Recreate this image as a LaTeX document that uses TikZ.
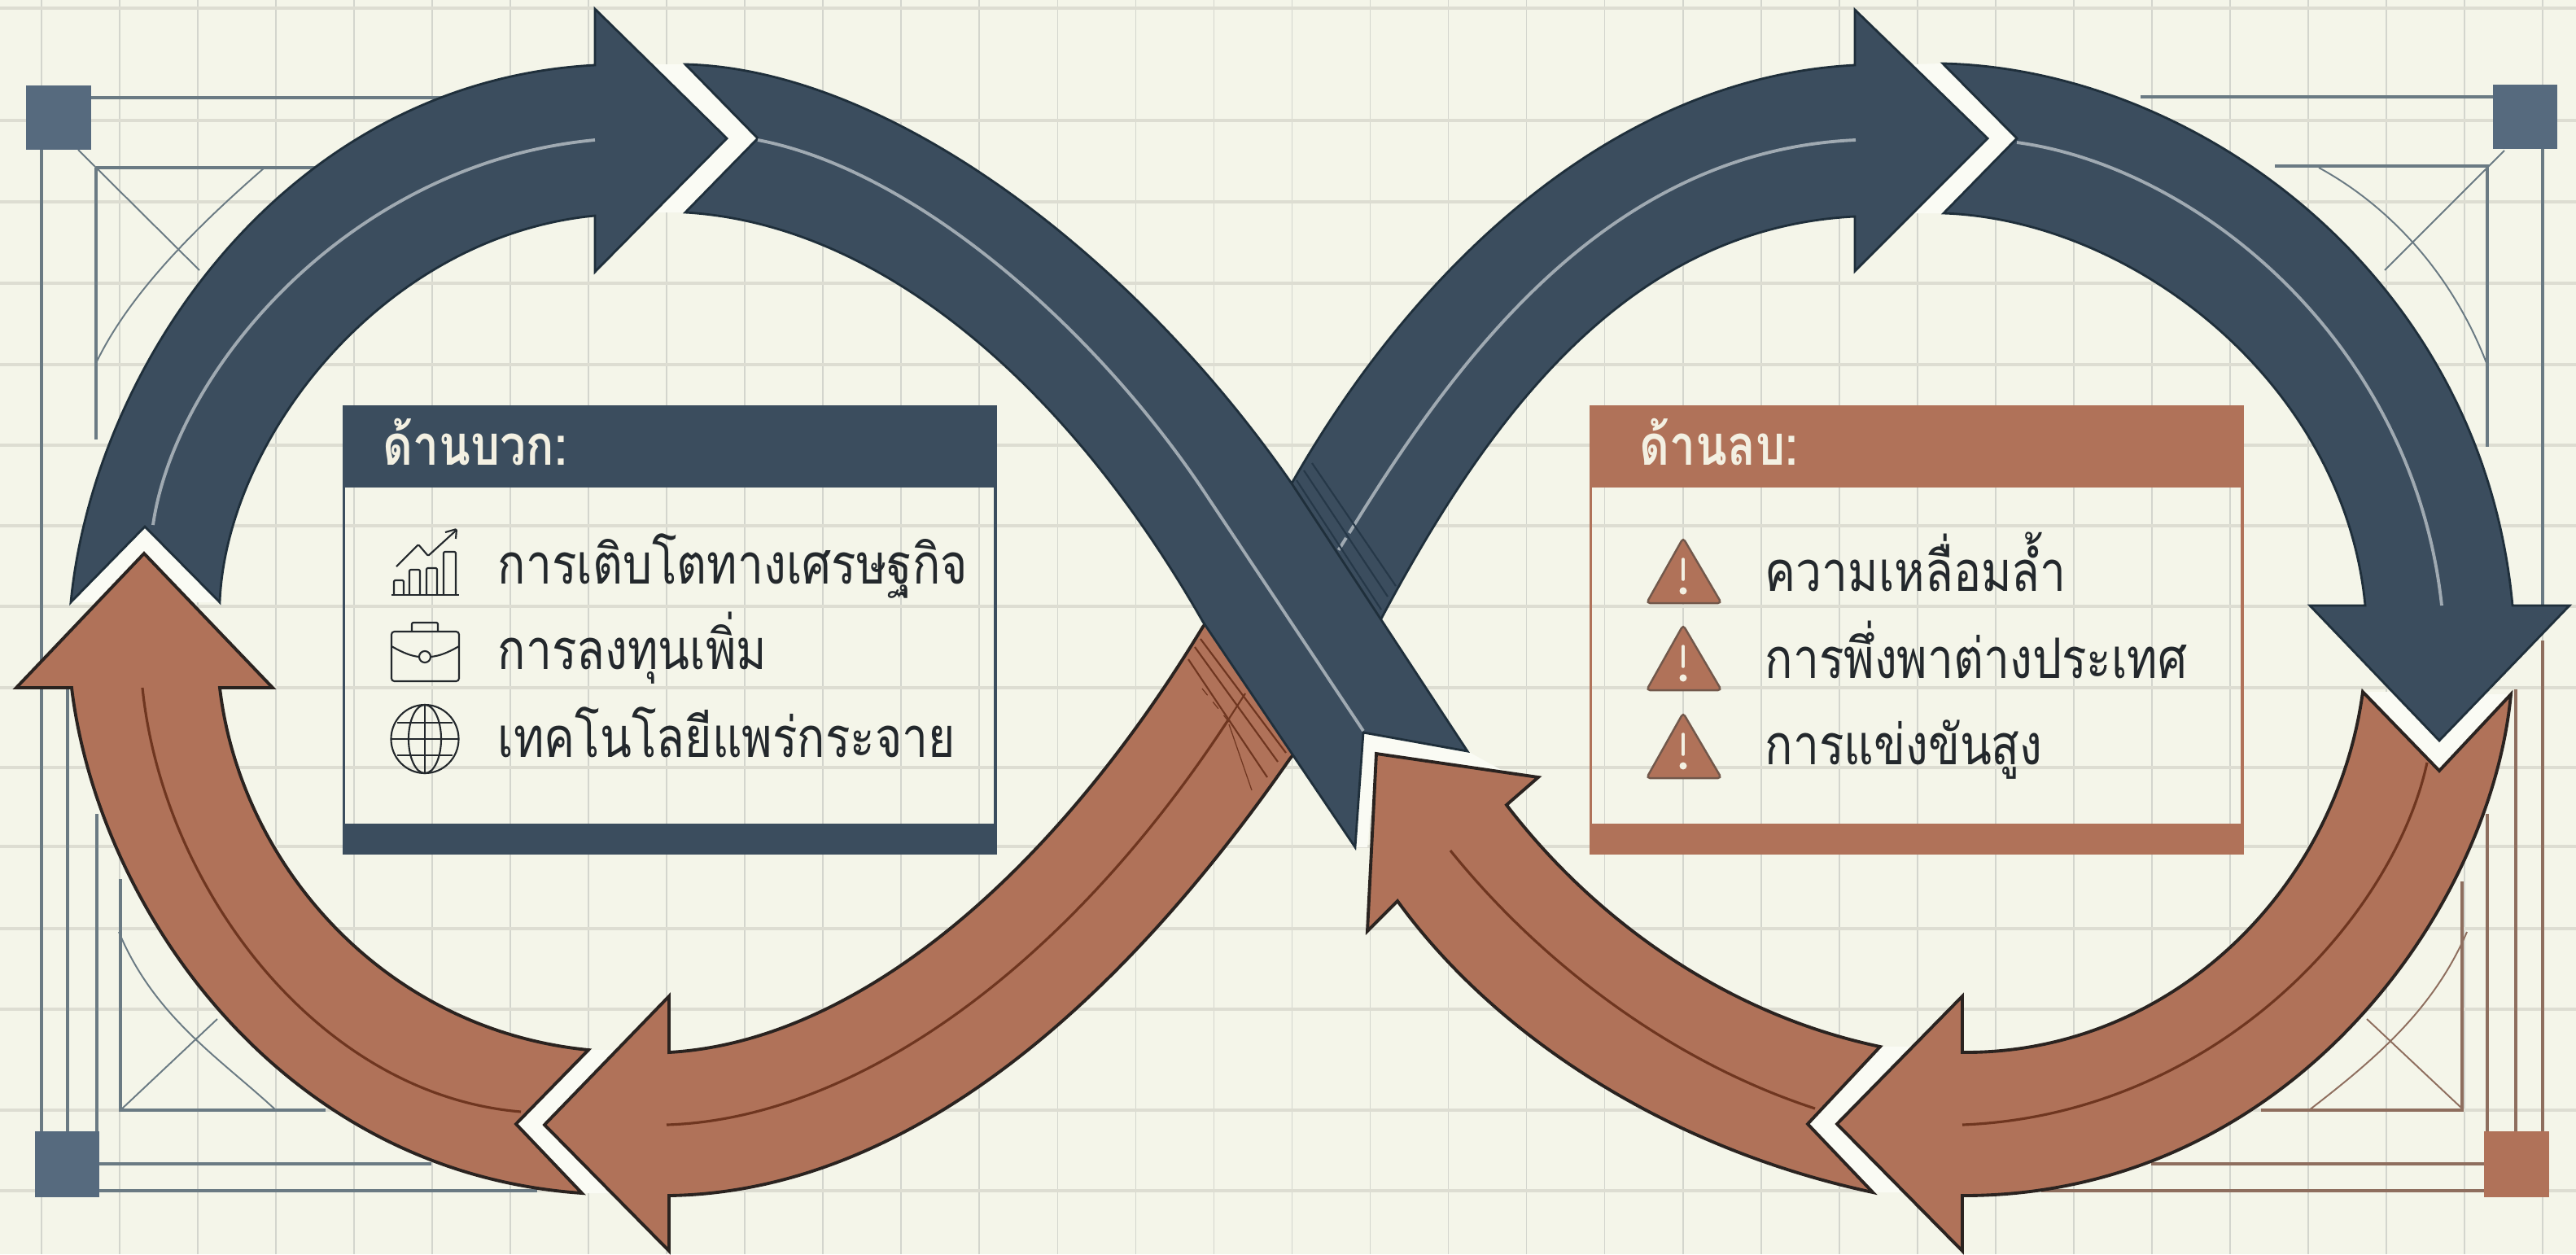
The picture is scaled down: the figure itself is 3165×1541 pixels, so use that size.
\documentclass[tikz,border=0pt]{standalone}
\usepackage{fontspec}
\newfontfamily\thaifont[Script=Thai,FakeStretch=0.83]{Loma}
\definecolor{paper}{HTML}{F4F5E9}
\definecolor{paperlight}{HTML}{FAFBF4}
\definecolor{gridv}{HTML}{D3D5CD}
\definecolor{gridh}{HTML}{DDDDD2}
\definecolor{navy}{HTML}{3B4D5E}
\definecolor{navyedge}{HTML}{1F2F3B}
\definecolor{navyline}{HTML}{A0AAB2}
\definecolor{navycross}{HTML}{263848}
\definecolor{clay}{HTML}{B07259}
\definecolor{clayedge}{HTML}{2A2320}
\definecolor{clayline}{HTML}{6F3620}
\definecolor{slate}{HTML}{566A7E}
\definecolor{slateline}{HTML}{6A7A83}
\definecolor{clayframe}{HTML}{8E6E5E}
\definecolor{labelink}{HTML}{F3F0E2}
\definecolor{ink}{HTML}{23282C}
\begin{document}
\begin{tikzpicture}[x=0.01cm, y=-0.01cm,
	navyarrow/.style={fill=navy, draw=navyedge, line width=0.8pt, line join=miter},
	clayarrow/.style={fill=clay, draw=clayedge, line width=1.1pt, line join=miter},
	navymid/.style={draw=navyline, line width=1.1pt},
	claymid/.style={draw=clayline, line width=0.9pt},
	framing/.style={draw=#1, line width=0.9pt},
	thinframing/.style={draw=#1, line width=0.55pt},
	panelbox/.style={rectangle, draw=#1, line width=0.9pt, inner sep=0pt, minimum width=8cm, minimum height=5.48cm, anchor=north west},
	panelhead/.style={rectangle, fill=#1, draw=#1, inner sep=0pt, minimum width=8cm, minimum height=1cm, anchor=north west},
	panelfoot/.style={rectangle, fill=#1, draw=#1, inner sep=0pt, minimum width=8cm, minimum height=0.33cm, anchor=south west},
	headtext/.style={anchor=base west, inner sep=0pt, text=labelink, font=\thaifont\bfseries\fontsize{19.5}{22}\selectfont},
	itemtext/.style={anchor=base west, inner sep=0pt, text=ink, font=\thaifont\fontsize{19.5}{22}\selectfont},
	iconline/.style={draw=ink, line width=0.6pt, line join=round, rounded corners=0.4pt}]

	\useasboundingbox (0,0) rectangle (3165,1541);
	\fill[paper] (0,0) rectangle (3165,1541);

	\foreach \k in {0,...,32}
		\draw[gridv, line width=0.5pt] ({51+96.03*\k},0) -- ({51+96.03*\k},1541);
	\foreach \h in {10,148,248,348,448,547,646,745,845,943,1040,1141,1240,1364,1463}
		\draw[gridh, line width=0.9pt] (0,\h) -- (3165,\h);

	\draw[framing=slateline] (112,120) -- (560,120);
	\draw[framing=slateline] (118,206) -- (390,206);
	\draw[framing=slateline] (118,206) -- (118,540);
	\draw[framing=slateline] (51,184) -- (51,1390);
	\draw[framing=slateline] (83,845) -- (83,1390);
	\draw[framing=slateline] (119,1000) -- (119,1390);
	\draw[thinframing=slateline] (96,184) -- (245,332);
	\draw[thinframing=slateline] (325,206) .. controls (240,280) and (160,360) .. (119,444);
	\fill[slate] (32,105) rectangle (112,184);

	\draw[framing=slateline] (148,1080) -- (148,1364) -- (400,1364);
	\draw[framing=slateline] (122,1430) -- (530,1430);
	\draw[framing=slateline] (122,1463) -- (660,1463);
	\draw[thinframing=slateline] (148,1364) -- (267,1252);
	\draw[thinframing=slateline] (339,1364) .. controls (270,1300) and (190,1250) .. (146,1145);
	\fill[slate] (43,1390) rectangle (122,1471);

	\draw[framing=slateline] (2630,119) -- (3063,119);
	\draw[framing=slateline] (2795,204) -- (3056,204) -- (3056,549);
	\draw[framing=slateline] (3124,183) -- (3124,744);
	\draw[thinframing=slateline] (3077,185) -- (2930,332);
	\draw[thinframing=slateline] (2849,206) .. controls (2930,250) and (3010,330) .. (3055,446);
	\fill[slate] (3063,104) rectangle (3142,183);

	\draw[framing=clayframe] (3124,787) -- (3124,1390);
	\draw[framing=clayframe] (3091,847) -- (3091,1390);
	\draw[framing=clayframe] (3056,1000) -- (3056,1390);
	\draw[framing=clayframe] (3025,1083) -- (3025,1364) -- (2778,1364);
	\draw[framing=clayframe] (2643,1430) -- (3052,1430);
	\draw[framing=clayframe] (2508,1463) -- (3052,1463);
	\draw[thinframing=clayframe] (3025,1362) -- (2908,1252);
	\draw[thinframing=clayframe] (2837,1364) .. controls (2920,1300) and (2990,1240) .. (3031,1145);
	\fill[clay] (3052,1390) rectangle (3132,1471);

	\node[panelbox=navy] (posbox) at (421,498) {};
	\node[panelhead=navy] (poshead) at (421,498) {};
	\node[panelfoot=navy] (posfoot) at (421,1046) {};
	\node[headtext] (poslabel) at (470,571) {ด้านบวก:};
	\node[itemtext] (posa) at (611,717) {การเติบโตทางเศรษฐกิจ};
	\node[itemtext] (posb) at (611,822) {การลงทุนเพิ่ม};
	\node[itemtext] (posc) at (611,930) {เทคโนโลยีแพร่กระจาย};

	\draw[iconline] (481,731) -- (564,731);
	\draw[iconline] (484,731) -- (484,713) -- (496,713) -- (496,731);
	\draw[iconline] (503,731) -- (503,700) -- (516,700) -- (516,731);
	\draw[iconline] (524,731) -- (524,698) -- (537,698) -- (537,731);
	\draw[iconline] (545,731) -- (545,678) -- (560,678) -- (560,731);
	\draw[iconline] (487,696) -- (514,669) -- (526,683) -- (560,652);
	\draw[iconline] (547,654) -- (561,650) -- (560,662);
	\draw[iconline, rounded corners=1pt] (481,776) rectangle (564,837);
	\draw[iconline] (506,776) -- (506,765) -- (538,765) -- (538,776);
	\draw[iconline] (481,794) .. controls (495,802) and (505,806) .. (515,807);
	\draw[iconline] (529,807) .. controls (540,806) and (550,802) .. (564,794);
	\draw[iconline] (522,807) circle (0.07cm);
	\draw[iconline] (522,908) ellipse [x radius=0.415cm, y radius=0.42cm];
	\draw[iconline] (522,908) ellipse [x radius=0.2cm, y radius=0.42cm];
	\draw[iconline] (522,866) -- (522,950);
	\draw[iconline] (481,908) -- (563,908);
	\draw[iconline] (488,888) -- (556,888);
	\draw[iconline] (488,928) -- (556,928);

	\node[panelbox=clay] (negbox) at (1953,498) {};
	\node[panelhead=clay] (neghead) at (1953,498) {};
	\node[panelfoot=clay] (negfoot) at (1953,1046) {};
	\node[headtext] (neglabel) at (2014,571) {ด้านลบ:};
	\node[itemtext] (nega) at (2168,726) {ความเหลื่อมล้ำ};
	\node[itemtext] (negb) at (2168,833) {การพึ่งพาต่างประเทศ};
	\node[itemtext] (negc) at (2168,939) {การแข่งขันสูง};

	\foreach \t in {0,107,215} {
		\draw[fill=clay, draw=clayframe!80!black, line width=0.7pt, rounded corners=1.2pt] (2068,661+\t) -- (2115,741+\t) -- (2023,741+\t) -- cycle;
		\draw[labelink, line width=1pt, line cap=round] (2068,687+\t) -- (2068,712+\t);
		\fill[labelink] (2068,726+\t) circle (0.045cm);
	}

	\fill[paperlight] (800,79) -- (842,79) -- (931,170) -- (842,261) -- (803,261) -- (893,170) -- cycle;
	\fill[paperlight] (2348,79) -- (2387,78) -- (2478,170) -- (2388,262) -- (2351,262) -- (2442,170) -- cycle;
	\fill[paperlight] (87,740) -- (178,647) -- (270,740) -- (234,740) -- (177,680) -- (120,740) -- cycle;
	\fill[paperlight] (2942,850) -- (2997,910) -- (3052,853) -- (3085,853) -- (2997,947) -- (2903,850) -- cycle;
	\fill[paperlight] (723,1290) -- (758,1290) -- (669,1382) -- (752,1466) -- (715,1466) -- (634,1381) -- cycle;
	\fill[paperlight] (2310,1286) -- (2347,1286) -- (2257,1381) -- (2341,1465) -- (2301,1465) -- (2221,1381) -- cycle;
	\fill[paperlight] (1675,900) -- (1803,923) -- (1850,949) -- (1691,926) -- (1680,1041) -- (1665,1041) -- cycle;

	\draw[clayarrow] (1520,720) -- (1478,770) .. controls (1290,1080) and (1050,1280) .. (822,1293)
		-- (822,1224) -- (669,1382) -- (822,1537) -- (822,1469) .. controls (1090,1465) and (1350,1270) .. (1585,932) -- (1630,880) -- cycle;
	\draw[claymid] (819,1382) .. controls (1050,1375) and (1310,1190) .. (1510,883);
	\draw[draw=clayline, line width=0.6pt] (1530,852) -- (1510,883);
	\foreach \a/\b/\c/\d in {1475/785/1580/925, 1468/795/1570/936, 1460/810/1557/955}
		\draw[draw=clayline, line width=0.6pt] (\a,\b) -- (\c,\d);
	\draw[draw=clayline, line width=0.35pt] (1510,890) -- (1538,971);
	\draw[draw=clayline, line width=0.35pt, dashed] (1477,846) -- (1510,887);

	\draw[navyarrow] (1560,630) -- (1587,594) .. controls (1740,325) and (1985,95) .. (2279,80)
		-- (2279,12) -- (2442,170) -- (2279,333) -- (2279,266) .. controls (2000,280) and (1830,510) .. (1695,764) -- (1660,800) -- cycle;
	\draw[navymid] (2280,172) .. controls (1985,185) and (1800,425) .. (1667,640);
	\draw[navymid, dash pattern=on 5pt off 2pt] (1667,640) -- (1642,680);
	\foreach \a/\b/\c/\d in {1612/569/1715/720, 1602/578/1705/733, 1593/590/1697/749}
		\draw[draw=navycross, line width=0.6pt] (\a,\b) -- (\c,\d);

	\draw[navyarrow] (842,79) -- (931,170) -- (842,261) .. controls (1080,275) and (1310,470) .. (1478,764) -- (1665,1041)
		-- (1675,900) -- (1803,923) -- (1587,594) .. controls (1390,310) and (1090,85) .. (842,79) -- cycle;
	\draw[navymid] (931,172) .. controls (1130,210) and (1350,410) .. (1480,605) -- (1675,898);

	\draw[navyarrow] (87,740) -- (178,647) -- (270,740) .. controls (278,540) and (470,290) .. (731,265)
		-- (731,334) -- (893,170) -- (731,11) -- (731,80) .. controls (350,100) and (115,450) .. (87,740) -- cycle;
	\draw[navymid] (731,172) .. controls (430,200) and (215,455) .. (188,645);

	\draw[navyarrow] (2387,78) -- (2478,170) -- (2388,262) .. controls (2620,270) and (2880,470) .. (2906,744)
		-- (2838,744) -- (2997,910) -- (3157,744) -- (3087,744) .. controls (3050,340) and (2700,85) .. (2387,78) -- cycle;
	\draw[navymid] (2478,175) .. controls (2700,205) and (2965,420) .. (3000,744);

	\draw[clayarrow] (177,680) -- (335,845) -- (270,845) .. controls (295,1060) and (470,1265) .. (723,1290)
		-- (634,1381) -- (715,1466) .. controls (340,1440) and (120,1110) .. (88,845) -- (20,845) -- cycle;
	\draw[claymid] (175,845) .. controls (200,1090) and (390,1345) .. (640,1366);

	\draw[clayarrow] (1691,926) -- (1890,955) -- (1851,989) .. controls (1955,1125) and (2115,1245) .. (2310,1286)
		-- (2221,1381) -- (2301,1465) .. controls (2045,1410) and (1835,1270) .. (1717,1107) -- (1680,1144) -- cycle;
	\draw[claymid] (1782,1045) .. controls (1895,1185) and (2055,1305) .. (2230,1362);

	\draw[clayarrow] (2903,850) -- (2997,947) -- (3085,853) .. controls (3060,1120) and (2810,1470) .. (2411,1469)
		-- (2411,1537) -- (2257,1381) -- (2411,1224) -- (2411,1293) .. controls (2665,1295) and (2870,1095) .. (2903,850) -- cycle;
	\draw[claymid] (2982,937) .. controls (2940,1130) and (2720,1370) .. (2411,1382);
\end{tikzpicture}
\end{document}
